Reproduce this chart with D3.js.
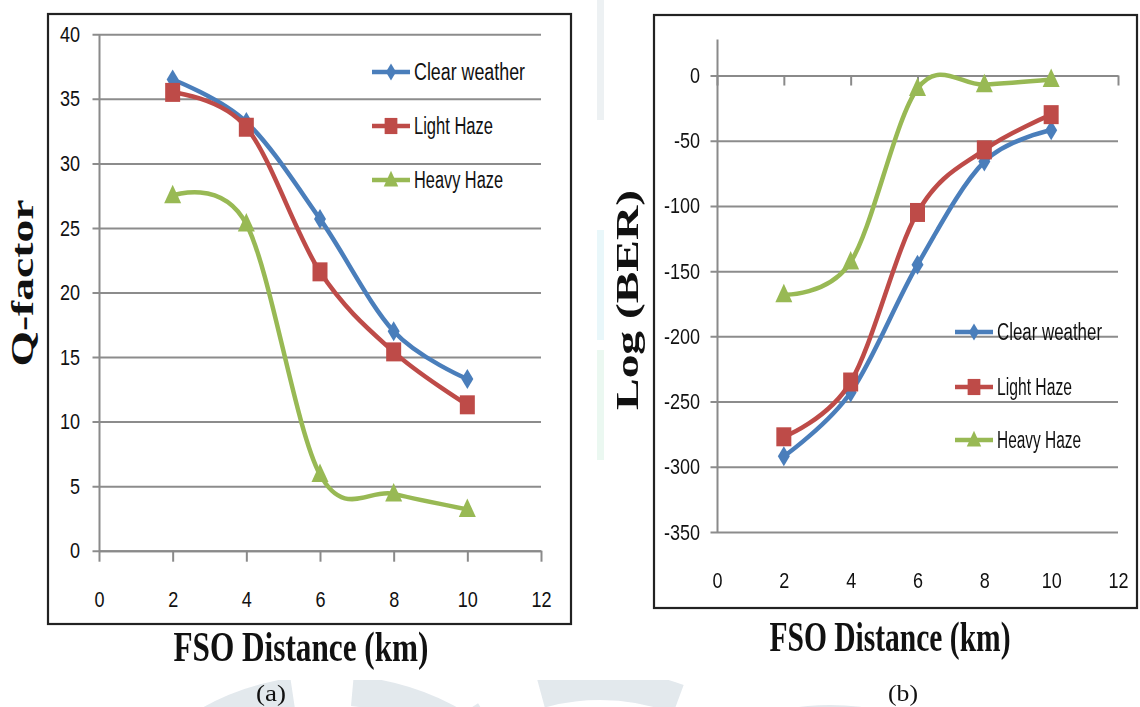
<!DOCTYPE html>
<html lang="en">
<head>
<meta charset="UTF-8">
<title>Q-factor and BER vs FSO distance</title>
<script src="https://cdn.jsdelivr.net/npm/d3@7"></script>
<style>
  body { margin: 0; background: #fff; }
  svg text { font-family: "Liberation Sans", Arial, sans-serif; fill: #111; }
  .serif { font-family: "Liberation Serif", "Times New Roman", serif !important; }
</style>
</head>
<body>
<svg id="fig" width="1140" height="707"></svg>
<script>
// ---- data ----
var distance = [2, 4, 6, 8, 10];
var seriesNames = ["Clear weather", "Light Haze", "Heavy Haze"];

var qClear = [36.5, 33.2, 25.7, 17.0, 13.3];
var qLight = [35.5, 32.8, 21.6, 15.4, 11.3];
var qHeavy = [27.5, 25.3, 5.9, 4.4, 3.2];

var berClear = [-292, -243, -145, -66, -42];
var berLight = [-277, -235, -105, -57, -30];
var berHeavy = [-168, -143, -10, -7, -3];

var xTicks = [0, 2, 4, 6, 8, 10, 12];
var qTicks = [0, 5, 10, 15, 20, 25, 30, 35, 40];
var berTicks = [0, -50, -100, -150, -200, -250, -300, -350];

var colors = ["#4a7ebb", "#be4b48", "#98b954"];
var shapes = ["diamond", "square", "triangle"];

var svg = d3.select("#fig");
var SX = 0.82; // the original picture is horizontally squeezed

// marker path, w x h box
function marker(shape) {
  if (shape == "diamond") return "M0,-10L6,0L0,10L-6,0Z";
  if (shape == "square") return "M-7.5,-9.5H7.5V9.5H-7.5Z";
  return "M0,-11L8.5,7.5H-8.5Z";
}

// faint watermark behind everything
var wm = svg.append("g").attr("opacity", 0.4);
svg.append("clipPath").attr("id", "wmclip")
  .append("rect").attr("x", 0).attr("y", 680).attr("width", 1140).attr("height", 30);
wm.append("g").attr("clip-path", "url(#wmclip)").selectAll("path")
  .data([[330, 940, 250], [600, 910, 225], [830, 950, 230]])
  .enter().append("circle")
  .attr("cx", function(d) { return d[0]; })
  .attr("cy", function(d) { return d[1]; })
  .attr("r", function(d) { return d[2]; })
  .attr("fill", "none")
  .attr("stroke", "#b9c7d3")
  .attr("stroke-width", 30)
  .attr("stroke-dasharray", "140,60");
wm.append("rect").attr("x", 597).attr("y", 0).attr("width", 7).attr("height", 120).attr("fill", "#d3dbe1");
wm.append("rect").attr("x", 597).attr("y", 230).attr("width", 7).attr("height", 110).attr("fill", "#c9ecf2");
wm.append("rect").attr("x", 597).attr("y", 350).attr("width", 7).attr("height", 110).attr("fill", "#cdeedd");

function squeezeText(sel, x) {
  sel.attr("transform", "scale(" + SX + ",1)")
     .attr("x", x / SX)
     .style("font-size", "22px");
}

function drawChart(cfg) {
  var g = svg.append("g");

  // frame
  g.append("rect")
    .attr("x", cfg.frame[0]).attr("y", cfg.frame[1])
    .attr("width", cfg.frame[2] - cfg.frame[0]).attr("height", cfg.frame[3] - cfg.frame[1])
    .attr("fill", "none").attr("stroke", "#222").attr("stroke-width", 2.2);

  var x = d3.scaleLinear().domain([0, 12]).range(cfg.xRange);
  var y = d3.scaleLinear().domain(cfg.yDomain).range(cfg.yRange);
  var plotW = cfg.xRange[1] - cfg.xRange[0];

  // y axis + gridlines
  var yAx = g.append("g")
    .attr("transform", "translate(" + cfg.xRange[0] + ",0)")
    .call(d3.axisLeft(y).tickValues(cfg.yTicks).tickSizeInner(-plotW).tickSizeOuter(0)
      .tickPadding(cfg.yPad).tickFormat(function(d) { return String(d); }));
  yAx.select(".domain").attr("stroke", "#8a8a8a").attr("stroke-width", 2);
  yAx.selectAll(".tick line").attr("x1", -6.5).attr("stroke", "#8c8c8c").attr("stroke-width", 2);
  yAx.selectAll(".tick text").call(squeezeText, -cfg.yPad);

  // x axis line with tick marks at zero
  var xAx = g.append("g")
    .attr("transform", "translate(0," + y(0) + ")")
    .call(d3.axisBottom(x).tickValues(xTicks).tickSize(cfg.xTick).tickSizeOuter(0).tickFormat(""));
  xAx.select(".domain").attr("stroke", "#8a8a8a").attr("stroke-width", 2);
  xAx.selectAll(".tick line").attr("stroke", "#8a8a8a").attr("stroke-width", 2);

  // x tick labels (low position)
  var xLab = g.append("g")
    .attr("transform", "translate(0," + cfg.xLabelY + ")")
    .call(d3.axisBottom(x).tickValues(xTicks).tickSize(0).tickPadding(0));
  xLab.select(".domain").remove();
  xLab.selectAll(".tick text").each(function() {
    d3.select(this).call(squeezeText, 0);
  });

  // series
  var line = d3.line()
    .x(function(d, i) { return x(distance[i]); })
    .y(function(d) { return y(d); })
    .curve(d3.curveCatmullRom.alpha(0));

  cfg.series.forEach(function(vals, k) {
    var s = g.append("g");
    s.append("path")
      .attr("d", line(vals))
      .attr("fill", "none")
      .attr("stroke", colors[k])
      .attr("stroke-width", 4.5)
      .attr("stroke-linejoin", "round");
    s.selectAll("path.m").data(vals).enter().append("path")
      .attr("class", "m")
      .attr("d", marker(shapes[k]))
      .attr("transform", function(d, i) { return "translate(" + x(distance[i]) + "," + y(d) + ")"; })
      .attr("fill", colors[k]);
  });

  // legend
  var lg = g.append("g");
  seriesNames.forEach(function(name, k) {
    var ly = cfg.legY[k];
    lg.append("line")
      .attr("x1", cfg.legX).attr("x2", cfg.legX + 38)
      .attr("y1", ly).attr("y2", ly)
      .attr("stroke", colors[k]).attr("stroke-width", 4.5);
    lg.append("path")
      .attr("d", marker(shapes[k]))
      .attr("transform", "translate(" + (cfg.legX + 19) + "," + ly + ") scale(0.85)")
      .attr("fill", colors[k]);
    lg.append("text")
      .attr("x", cfg.legX + 42).attr("y", ly + 8)
      .style("font-size", "23px")
      .attr("textLength", cfg.legLen[k]).attr("lengthAdjust", "spacingAndGlyphs")
      .text(name);
  });

  // axis titles
  g.append("text").attr("class", "serif")
    .attr("transform", "translate(" + cfg.yTitle[0] + "," + cfg.yTitle[1] + ") rotate(-90)")
    .attr("text-anchor", "middle")
    .style("font-size", "31px").style("font-weight", "bold")
    .attr("textLength", cfg.yTitle[2]).attr("lengthAdjust", "spacingAndGlyphs")
    .text(cfg.yTitleText);
  g.append("text").attr("class", "serif")
    .attr("x", cfg.xTitle[0]).attr("y", cfg.xTitle[1])
    .attr("text-anchor", "middle")
    .style("font-size", "43px").style("font-weight", "bold")
    .attr("textLength", cfg.xTitle[2]).attr("lengthAdjust", "spacingAndGlyphs")
    .text("FSO Distance (km)");
  g.append("text").attr("class", "serif")
    .attr("x", cfg.tag[0]).attr("y", 701)
    .attr("text-anchor", "middle")
    .style("font-size", "23px")
    .attr("textLength", 30).attr("lengthAdjust", "spacingAndGlyphs")
    .text(cfg.tag[1]);
}

drawChart({
  frame: [48, 14, 571, 624],
  xRange: [99, 541],
  yDomain: [0, 40],
  yRange: [550.7, 34.3],
  yTicks: qTicks,
  yPad: 19,
  xTick: 11,
  xLabelY: 591,
  series: [qClear, qLight, qHeavy],
  legX: 372,
  legY: [72, 126, 180],
  legLen: [111, 79, 89],
  yTitle: [33, 283, 167],
  yTitleText: "Q-factor",
  xTitle: [301, 661, 255],
  tag: [271, "(a)"]
});

drawChart({
  frame: [654, 15, 1137, 608],
  xRange: [717, 1118],
  yDomain: [-350, 28],
  yRange: [532, 39],
  yTicks: berTicks,
  yPad: 17,
  xTick: 10,
  xLabelY: 572,
  series: [berClear, berLight, berHeavy],
  legX: 955,
  legY: [332, 387, 440],
  legLen: [105, 75, 84],
  yTitle: [638, 300, 220],
  yTitleText: "Log (BER)",
  xTitle: [890, 651, 241],
  tag: [903, "(b)"]
});
</script>
</body>
</html>
